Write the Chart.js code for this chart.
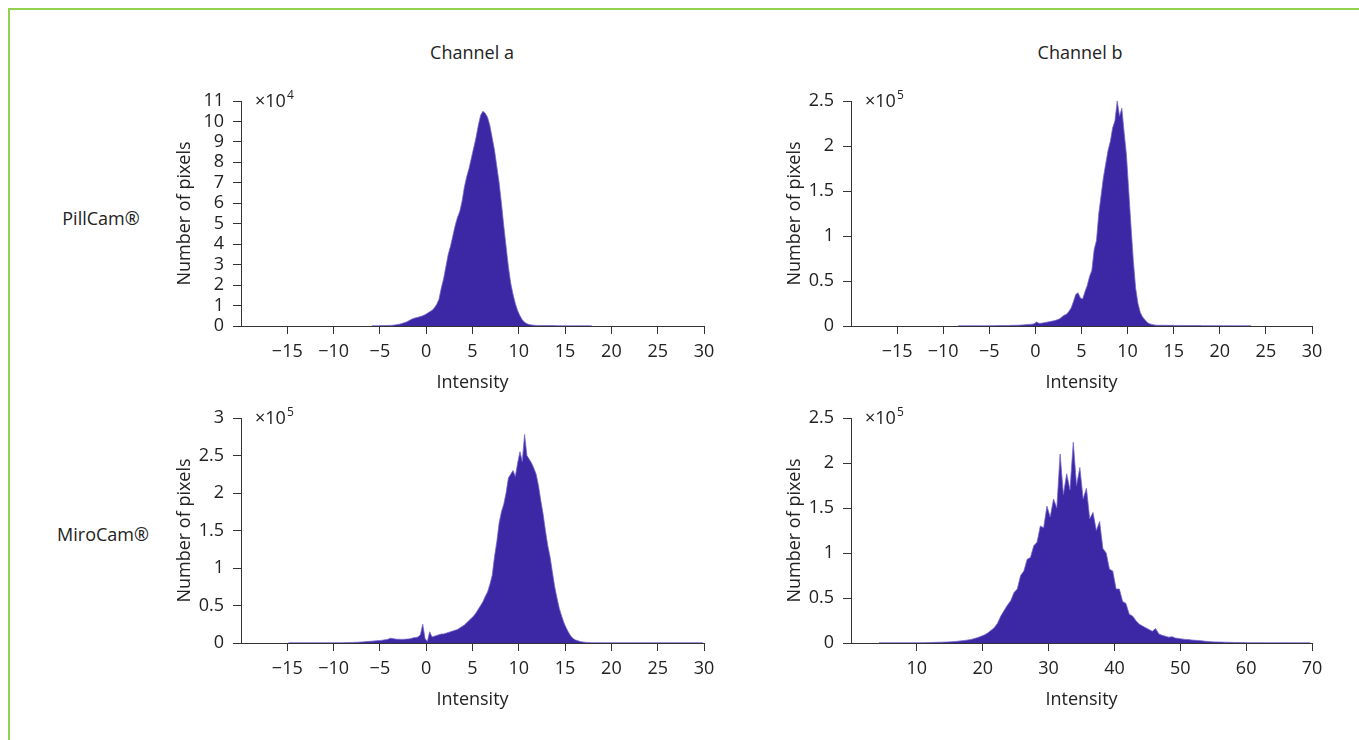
<!DOCTYPE html>
<html><head><meta charset="utf-8">
<script src="https://cdn.jsdelivr.net/npm/chart.js@4.4.1/dist/chart.umd.min.js"></script>
<style>
html,body{margin:0;padding:0;background:#fff;}
body{width:1359px;height:740px;position:relative;overflow:hidden;font-family:"Open Sans",sans-serif;color:#222;}
.frame{position:absolute;left:8px;top:8px;width:1400px;height:800px;border-left:2px solid #92d050;border-top:2px solid #92d050;}
.lbl{position:absolute;font-size:18px;white-space:nowrap;transform:translate(-50%,-50%);}
canvas{position:absolute;}
</style></head><body>
<div class="frame"></div>
<div class="lbl" style="left:472px;top:52px">Channel a</div>
<div class="lbl" style="left:1080px;top:52px">Channel b</div>
<div class="lbl" style="left:101px;top:218px">PillCam®</div>
<div class="lbl" style="left:103px;top:534px">MiroCam®</div>
<canvas id="c1" width="560" height="318" style="left:170px;top:80px"></canvas>
<canvas id="c2" width="558" height="318" style="left:780px;top:80px"></canvas>
<canvas id="c3" width="560" height="318" style="left:170px;top:397px"></canvas>
<canvas id="c4" width="558" height="318" style="left:780px;top:397px"></canvas>
<script>
// ---- Data (histogram bins: left edge start, bin width, counts in axis units) ----
// PillCam, channel a (x10^4)
const pillA_binStart = -6, pillA_binWidth = 0.25;
const pillA_counts = [
 0.01,0.01,0.01,0.01,0.02,0.02,0.02,0.03,0.03,0.04,0.05,0.07,
 0.09,0.12,0.16,0.2,0.26,0.32,0.37,0.4,0.43,0.46,0.5,0.55,
 0.62,0.7,0.76,0.88,1.05,1.3,1.85,2.3,2.9,3.5,3.9,4.4,
 4.9,5.3,5.6,6.1,6.8,7.3,7.7,8.2,8.7,9.2,9.8,10.3,
 10.5,10.4,10.2,9.8,9.2,8.6,7.8,7.0,6.0,4.9,3.9,2.9,
 2.1,1.55,1.1,0.75,0.5,0.3,0.18,0.11,0.07,0.05,0.04,0.03,
 0.03,0.02,0.02,0.02,0.02,0.02,0.02,0.02,0.01,0.01,0.01,0.01,
 0.01,0.01,0.01,0.01,0.01,0.01,0.01,0.01,0.01,0.01,0.01,0.01
];
// PillCam, channel b (x10^5)
const pillB_binStart = -8.5, pillB_binWidth = 0.25;
const pillB_counts = [
 0.003,0.003,0.003,0.003,0.003,0.003,0.003,0.003,0.003,0.003,0.003,0.003,0.003,0.003,
 0.004,0.004,0.004,0.005,0.005,0.005,0.006,0.006,0.006,0.007,0.007,0.008,
 0.009,0.01,0.012,0.014,0.016,0.018,0.02,0.025,
 0.045,0.03,0.03,0.035,
 0.04,0.045,0.05,0.055,
 0.06,0.07,0.08,0.1,
 0.12,0.13,0.16,0.2,
 0.27,0.35,0.37,0.31,
 0.3,0.38,0.45,0.55,
 0.62,0.85,0.95,1.25,
 1.45,1.65,1.8,1.95,
 2.05,2.2,2.28,2.5,
 2.33,2.42,2.15,1.9,
 1.5,1.1,0.72,0.42,
 0.25,0.15,0.1,0.07,
 0.04,0.025,0.018,0.012,
 0.009,
 0.008,0.008,0.008,0.007,0.007,0.007,0.007,0.006,0.006,0.006,0.006,0.006,0.005,0.005,
 0.005,0.005,0.005,0.005,0.005,0.004,0.004,0.004,0.004,0.004,0.004,0.004,0.004,0.004,
 0.004,0.004,0.004,0.003,0.003,0.003,0.003,0.003,0.003,0.003,0.003,0.003,0.003
];
// MiroCam, channel a (x10^5)
const miroA_binStart = -15, miroA_binWidth = 0.25;
const miroA_counts = [
 0.003,0.003,0.003,0.003,0.003,0.003,0.003,0.003,0.003,0.003,0.003,0.003,0.003,0.003,
 0.003,0.003,0.003,0.003,0.003,0.003,0.004,0.004,0.004,0.005,0.005,0.006,0.006,0.007,
 0.008,0.01,0.01,0.012,
 0.015,0.018,0.02,0.022,
 0.025,0.028,0.03,0.033,
 0.035,0.04,0.045,0.05,
 0.065,0.06,0.055,0.05,
 0.05,0.048,0.05,0.052,
 0.055,0.06,0.07,0.075,
 0.08,0.11,0.25,0.06,
 0.02,0.15,0.08,0.09,
 0.1,0.11,0.12,0.12,
 0.13,0.14,0.15,0.16,
 0.17,0.18,0.2,0.22,
 0.24,0.27,0.3,0.33,
 0.36,0.4,0.45,0.5,
 0.55,0.62,0.68,0.78,
 0.9,1.15,1.35,1.6,
 1.75,1.85,2.0,2.2,
 2.25,2.3,2.22,2.4,
 2.55,2.42,2.78,2.5,
 2.45,2.4,2.33,2.25,
 2.1,1.9,1.72,1.5,
 1.3,1.15,0.95,0.75,
 0.6,0.46,0.36,0.27,
 0.2,0.14,0.09,0.06,
 0.04,0.03,0.02,0.015,
 0.01,0.008,0.006,0.005,
 0.004,0.004,0.004,0.004,0.003,0.003,0.003,0.003,0.003,0.003,0.003,0.003,
 0.003,0.003,0.003,0.003,0.003,0.003,0.003,0.003,0.003,0.003,0.003,0.003,
 0.003,0.003,0.003,0.003,0.003,0.003,0.003,0.003,0.003,0.003,0.003,0.003,
 0.003,0.003,0.003,0.003,0.003,0.003,0.003,0.003,0.003,0.003,0.003,0.003
];
// MiroCam, channel b (x10^5)
const miroB_binStart = 4, miroB_binWidth = 0.5;
const miroB_counts = [
 0.002,0.002,0.002,0.002,0.002,0.002,0.003,0.003,0.003,0.003,0.003,0.003,
 0.003,0.004,0.004,0.005,0.006,0.007,0.008,0.009,
 0.01,0.012,0.014,0.016,0.02,0.024,0.028,0.034,
 0.04,0.05,0.06,0.075,
 0.09,0.11,0.14,0.17,
 0.22,0.3,0.36,0.42,
 0.47,0.56,0.6,0.75,
 0.8,0.93,0.95,1.08,
 1.12,1.3,1.28,1.52,
 1.4,1.6,1.5,2.1,
 1.65,1.88,1.7,2.23,
 1.75,1.95,1.6,1.72,
 1.38,1.45,1.25,1.35,
 1.05,1.0,0.82,0.8,
 0.6,0.6,0.46,0.44,
 0.32,0.3,0.25,0.21,
 0.19,0.17,0.15,0.13,
 0.16,0.1,0.085,0.075,
 0.065,0.07,0.055,0.05,
 0.045,0.04,0.038,0.033,
 0.03,0.028,0.024,0.02,
 0.016,0.014,0.012,0.011,
 0.01,0.009,0.008,0.007,
 0.006,0.006,0.005,0.005,
 0.004,0.004,0.004,0.004,0.004,0.003,0.003,0.003,0.003,0.003,
 0.003,0.003,0.003,0.003,0.002,0.002,0.002,0.002,0.002,0.002
];

// Axis settings
const xTicksAB = { min: -20, max: 30, step: 5 };
const xTicksMiroB = { min: 0, max: 70, step: 10 };
const yPillA = { max: 11, step: 1, exp: '4' };
const yPillB = { max: 2.5, step: 0.5, exp: '5' };
const yMiroA = { max: 3, step: 0.5, exp: '5' };
const yMiroB = { max: 2.5, step: 0.5, exp: '5' };

// ---- Rendering ----
const FILL = '#3c28a5';
const EDGE = 'rgba(115,100,205,0.75)';
const AXIS = '#333';
const TXT = '#222';
const FONT = { family: '"Open Sans", sans-serif', size: 18 };

// one point per bin, placed at the bin centre
function toPoints(start, width, values) {
  return values.map((v, i) => ({ x: start + (i + 0.5) * width, y: v }));
}
function fmtNum(v) {
  const s = String(Math.round(v * 100) / 100);
  return v < 0 ? '\u2212' + s.slice(1) : s;
}

const expPlugin = {
  id: 'exp',
  afterDraw(chart, args, opts) {
    const { ctx, chartArea } = chart;
    ctx.save();
    ctx.fillStyle = TXT;
    ctx.textBaseline = 'middle';
    ctx.font = '18px "Open Sans", sans-serif';
    const x = chartArea.left + 14, y = chartArea.top + 1;
    ctx.fillText('×10', x, y);
    const w = ctx.measureText('×10').width;
    ctx.font = '12px "Open Sans", sans-serif';
    ctx.fillText(opts.exp, x + w + 1, y - 6);
    ctx.restore();
  }
};

function makeChart(id, pts, xs, ys) {
  return new Chart(document.getElementById(id), {
    type: 'line',
    data: { datasets: [{
      data: pts, fill: 'origin',
      backgroundColor: FILL, borderColor: EDGE, borderWidth: 1,
      pointRadius: 0, tension: 0
    }] },
    options: {
      responsive: false, animation: false, events: [],
      layout: { padding: { top: 21, right: 26, left: 0, bottom: 0 } },
      plugins: { legend: { display: false }, tooltip: { enabled: false }, exp: { exp: ys.exp } },
      scales: {
        x: {
          type: 'linear', min: xs.min, max: xs.max, z: 1,
          ticks: { stepSize: xs.step, autoSkip: false, maxRotation: 0, padding: 7, color: TXT, font: FONT, callback: fmtNum },
          grid: { drawOnChartArea: false, drawTicks: true, tickLength: 8, color: AXIS, lineWidth: 1 },
          border: { display: true, color: AXIS, width: 1 },
          title: { display: true, text: 'Intensity', color: TXT, font: FONT, padding: { top: 0, bottom: 4 } },
          afterBuildTicks: s => { s.ticks = s.ticks.filter(t => t.value !== xs.min); },
          afterFit: s => { s.height = 72; }
        },
        y: {
          min: 0, max: ys.max,
          ticks: { stepSize: ys.step, autoSkip: false, padding: 9, color: TXT, font: FONT, callback: fmtNum },
          grid: { drawOnChartArea: false, drawTicks: true, tickLength: 8, color: AXIS, lineWidth: 1 },
          border: { display: true, color: AXIS, width: 1 },
          title: { display: true, text: 'Number of pixels', color: TXT, font: FONT, padding: { top: 4, bottom: 0 } },
          afterFit: s => { s.width = 71; }
        }
      }
    },
    plugins: [expPlugin]
  });
}

makeChart('c1', toPoints(pillA_binStart, pillA_binWidth, pillA_counts), xTicksAB, yPillA);
makeChart('c2', toPoints(pillB_binStart, pillB_binWidth, pillB_counts), xTicksAB, yPillB);
makeChart('c3', toPoints(miroA_binStart, miroA_binWidth, miroA_counts), xTicksAB, yMiroA);
makeChart('c4', toPoints(miroB_binStart, miroB_binWidth, miroB_counts), xTicksMiroB, yMiroB);
</script>
</body></html>
